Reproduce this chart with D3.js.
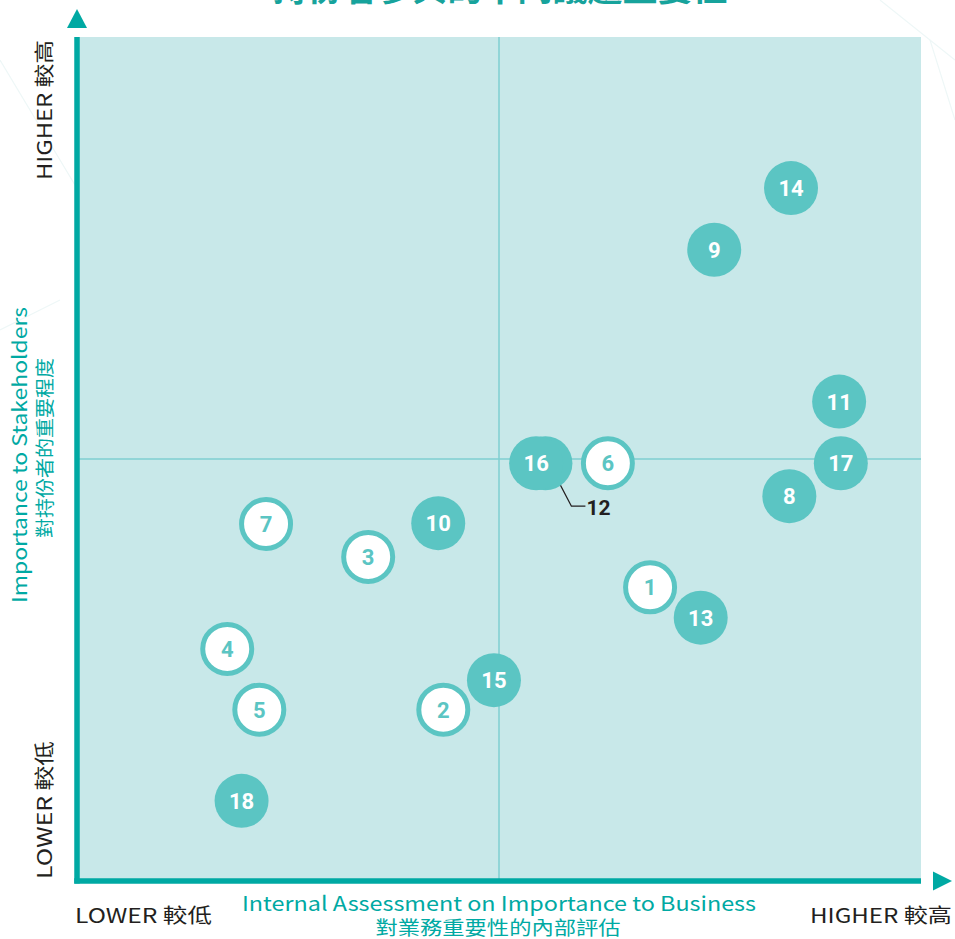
<!DOCTYPE html>
<html><head><meta charset="utf-8">
<script src="https://cdn.jsdelivr.net/npm/d3@7"></script>
<style>html,body{margin:0;padding:0;background:#fff;}svg{display:block;}</style>
</head><body>
<script>
const ids      = ["1","2","3","4","5","6","7","8","9","10","11","12","13","14","15","16","17","18"];
const business = [67.9,43.4,34.5,17.8,21.6,62.9,22.4,84.4,75.5,42.8,90.3,55.5,73.9,84.6,49.4,54.4,90.5,19.5];
const stake    = [34.8,20.3,38.4,27.5,20.3,49.5,42.3,45.6,74.8,42.4,56.8,49.5,31.2,82.1,23.8,49.5,49.5,9.5];
const outlined = ["1","2","3","4","5","6","7"];
const title = "持份者參與的不同議題重要性";
const xTitle = ["Internal Assessment on Importance to Business","對業務重要性的內部評估"];
const yTitle = ["Importance to Stakeholders","對持份者的重要程度"];
const lowLabel = "LOWER 較低", highLabel = "HIGHER 較高";

const W=955,H=939;
const teal="#00a9a3", dot="#5bc5c3", bg="#c8e8e9", mid="#7fcfd0";
const svg=d3.select("body").append("svg").attr("width",W).attr("height",H);

const x=d3.scaleLinear().domain([0,100]).range([77,921]);
const y=d3.scaleLinear().domain([0,100]).range([881,37]);

// faint background decoration
const deco=svg.append("g").attr("stroke","#eef7f7").attr("fill","none").attr("stroke-width",1.2);
[[0,60,120,260],[0,330,60,300],[930,40,955,120],[880,0,955,60]].forEach(l=>deco.append("line").attr("x1",l[0]).attr("y1",l[1]).attr("x2",l[2]).attr("y2",l[3]));

// plot background
svg.append("rect").attr("x",x(0)).attr("y",y(100)).attr("width",x(100)-x(0)).attr("height",y(0)-y(100)).attr("fill",bg);

// quadrant lines
svg.append("line").attr("x1",x(50)).attr("x2",x(50)).attr("y1",y(100)).attr("y2",y(0)).attr("stroke",mid).attr("stroke-width",1.5);
svg.append("line").attr("x1",x(0)).attr("x2",x(100)).attr("y1",y(50)).attr("y2",y(50)).attr("stroke",mid).attr("stroke-width",1.5);

// axes
svg.append("line").attr("x1",x(0)).attr("x2",x(0)).attr("y1",y(100)).attr("y2",y(0)+2.5).attr("stroke",teal).attr("stroke-width",5.5);
svg.append("line").attr("x1",x(0)-2.75).attr("x2",x(100)).attr("y1",y(0)).attr("y2",y(0)).attr("stroke",teal).attr("stroke-width",5.5);
svg.append("path").attr("d",`M${x(0)-10},28 L${x(0)+10},28 L${x(0)},9 Z`).attr("fill",teal);
svg.append("path").attr("d",`M933,${y(0)-9.5} L933,${y(0)+9.5} L952,${y(0)} Z`).attr("fill",teal);

// title (cut off at the top)
svg.append("text").attr("x",500).attr("y",1).attr("text-anchor","middle")
  .attr("font-family","'Noto Sans CJK TC','Noto Sans CJK SC',sans-serif").attr("font-weight",700)
  .attr("font-size",34).attr("fill","#17a39c").attr("textLength",455).attr("lengthAdjust","spacingAndGlyphs").text(title);

const cf="'Noto Sans CJK TC','Noto Sans CJK SC',Roboto,sans-serif";
// x axis titles
svg.append("text").attr("x",499).attr("y",911).attr("text-anchor","middle").attr("font-family",cf).attr("font-size",20)
  .attr("fill",teal).attr("textLength",514).attr("lengthAdjust","spacingAndGlyphs").text(xTitle[0]);
svg.append("text").attr("x",498).attr("y",935).attr("text-anchor","middle").attr("font-family",cf).attr("font-size",19)
  .attr("fill",teal).attr("textLength",245).attr("lengthAdjust","spacingAndGlyphs").text(xTitle[1]);
svg.append("text").attr("x",75).attr("y",923).attr("font-family",cf).attr("font-size",20)
  .attr("fill","#231f20").attr("textLength",137).attr("lengthAdjust","spacingAndGlyphs").text(lowLabel);
svg.append("text").attr("x",810).attr("y",923).attr("font-family",cf).attr("font-size",20)
  .attr("fill","#231f20").attr("textLength",142).attr("lengthAdjust","spacingAndGlyphs").text(highLabel);

// y axis titles
function vtext(cx,cy,txt,size,col,len){
  svg.append("text").attr("transform",`translate(${cx},${cy}) rotate(-90)`).attr("text-anchor","middle")
    .attr("dy","0.35em").attr("font-family",cf).attr("font-size",size).attr("fill",col)
    .attr("textLength",len).attr("lengthAdjust","spacingAndGlyphs").text(txt);
}
vtext(20,455,yTitle[0],20,teal,296);
vtext(45,448,yTitle[1],19,teal,180);
vtext(45,110,highLabel,20,"#231f20",140);
vtext(45,810,lowLabel,20,"#231f20",138);

// leader for 12
const i12=ids.indexOf("12");
svg.append("path").attr("d",`M${x(business[i12])+14},${y(stake[i12])+20} L${x(business[i12])+26},${y(stake[i12])+43} L${x(business[i12])+40},${y(stake[i12])+43}`)
  .attr("fill","none").attr("stroke","#231f20").attr("stroke-width",1.3);
svg.append("text").attr("x",x(business[i12])+41).attr("y",y(stake[i12])+44).attr("dy","0.35em")
  .attr("font-family","Roboto,sans-serif").attr("font-weight",700).attr("font-size",21).attr("fill","#231f20").text("12");

// bubbles
const data=ids.map((id,i)=>({id,bx:business[i],sy:stake[i],o:outlined.includes(id)}));
const order=["12"].concat(ids.filter(d=>d!=="12"));
const g=svg.append("g").selectAll("g").data(order.map(id=>data.find(d=>d.id===id))).join("g")
  .attr("transform",d=>`translate(${x(d.bx)},${y(d.sy)})`);
g.append("circle").attr("r",d=>d.o?24.5:27).attr("fill",d=>d.o?"#fff":dot)
  .attr("stroke",d=>d.o?dot:"none").attr("stroke-width",5);
g.filter(d=>d.id!=="12").append("text").attr("text-anchor","middle").attr("dy","0.36em")
  .attr("font-family","Roboto,sans-serif").attr("font-weight",700).attr("font-size",22)
  .attr("fill",d=>d.o?dot:"#fff").text(d=>d.id);
</script>
</body></html>
